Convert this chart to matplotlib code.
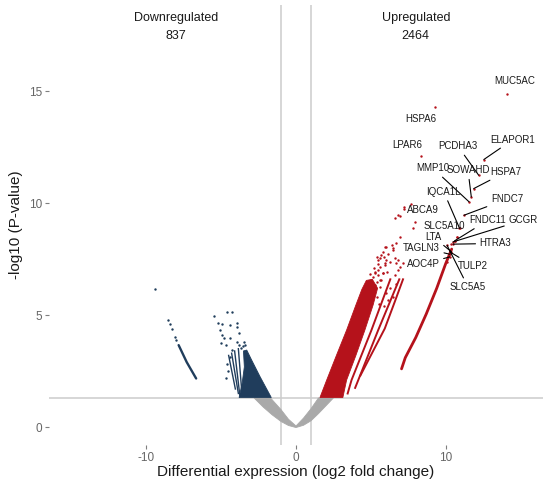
import numpy as np
import matplotlib
matplotlib.use('Agg')
import matplotlib.pyplot as plt

plt.rcParams['font.family'] = ['Liberation Sans', 'DejaVu Sans']
plt.rcParams['axes.unicode_minus'] = False

# colours
C_UP, C_DOWN, C_NS = '#B5121B', '#203D5C', '#A9A9A9'

# --- dense point clouds, outlined (log2FC, -log10 p)
ns_x = [-2.8, -2.2, -1.6, -1.0, -0.5, 0.0, 0.5, 1.0, 1.5, 2.0, 2.5, 1.5, 1.0, 0.5, 0.0, -0.5, -1.0, -1.7]
ns_y = [1.3, 0.9, 0.55, 0.25, 0.07, -0.02, 0.08, 0.28, 0.6, 0.95, 1.3, 1.3, 0.82, 0.4, 0.05, 0.35, 0.78, 1.3]

down_x = [-1.65, -2.4, -2.96, -3.29, -3.51, -3.45, -3.6, -3.8]
down_y = [1.32, 2.25, 2.99, 3.44, 3.4, 2.69, 1.95, 1.32]

up_x = [1.6, 2.05, 2.7, 3.38, 4.0, 4.4, 4.7, 5.1, 5.45, 5.15, 4.6, 4.0, 3.38, 3.13]
up_y = [1.32, 2.1, 3.2, 4.33, 5.45, 6.15, 6.55, 6.6, 6.2, 5.45, 4.33, 3.2, 2.1, 1.32]

# --- streaks of points
up_streaks = [
    ([3.45, 3.71, 5.04, 6.3], [1.5, 2.1, 4.33, 6.6]),
    ([3.95, 4.16, 5.49, 6.9], [1.75, 2.1, 4.33, 6.6]),
    ([4.3, 5.93, 6.6, 7.15], [2.3, 4.4, 5.6, 6.6]),
]
up_line_x = [7.05, 7.3, 8.0, 8.7, 9.4, 10.0, 10.4]
up_line_y = [2.6, 3.1, 4.0, 5.05, 6.2, 7.3, 7.95]

down_streaks = [
    ([-4.5, -4.05], [3.2, 1.7]),
    ([-4.3, -3.85], [3.3, 1.5]),
    ([-4.1, -3.75], [3.4, 1.4]),
    ([-3.85, -3.6], [3.5, 1.4]),
]
down_line_x = [-7.84, -7.3, -6.67]
down_line_y = [3.66, 2.9, 2.17]

# --- sparse points
down_pts_x = [-9.4, -8.58, -8.45, -8.29, -8.07, -8.0, -5.47, -4.58, -4.29, -5.18, -4.96, -4.44, -3.96,
              -3.91, -5.11, -4.96, -4.84, -3.78, -4.4, -3.96, -3.84, -5.02, -4.67, -3.47, -3.4, -4.29,
              -4.4, -4.6, -4.55, -4.7, -3.65, -3.55]
down_pts_y = [6.16, 4.8, 4.62, 4.4, 4.03, 3.88, 4.96, 5.12, 5.12, 4.63, 4.6, 4.55, 4.66,
              4.48, 4.33, 4.1, 3.96, 4.18, 4.0, 3.81, 3.66, 3.74, 3.66, 3.81, 3.66, 3.44,
              3.14, 2.8, 2.5, 2.2, 3.55, 3.6]

up_pts_x = [7.71, 7.22, 6.82, 6.6, 6.93, 7.93, 7.82, 6.93, 6.71, 6.38, 5.93, 6.49, 5.82, 6.16, 6.49,
            5.6, 5.93, 6.27, 6.6, 6.82, 6.93, 7.16, 5.49, 5.82, 6.09, 5.71, 6.6, 6.71, 5.27, 5.6,
            6.27, 6.49, 6.16, 5.04, 5.38, 4.93, 5.1, 5.3, 5.0, 5.55, 5.9, 6.0,
            6.0, 5.71, 5.87, 6.04, 5.49, 5.6, 5.93, 5.27, 5.49, 5.82, 5.04, 5.38, 5.6, 4.93,
            5.27, 4.82, 4.6, 5.16, 4.71, 6.71, 6.82, 5.15, 5.45, 4.75, 5.2, 4.95, 5.4,
            10.76, 10.6, 10.38, 10.89, 10.09]
up_pts_y = [9.96, 9.76, 9.46, 9.32, 9.42, 9.17, 8.87, 8.47, 8.2, 8.13, 8.05, 8.02, 7.83, 7.72, 7.9,
            7.53, 7.31, 7.38, 7.53, 7.46, 7.16, 7.31, 7.01, 6.86, 6.93, 6.56, 6.79, 6.41, 6.34, 6.26,
            6.19, 5.82, 5.67, 5.97, 5.82, 5.67, 6.5, 6.9, 6.2, 5.5, 5.4, 6.0,
            8.05, 7.68, 7.6, 7.46, 7.46, 7.16, 7.23, 6.93, 6.79, 6.86, 6.56, 6.49, 6.56, 6.26,
            6.19, 5.97, 5.75, 5.89, 5.52, 7.31, 7.01, 6.7, 7.3, 6.45, 7.1, 6.85, 7.6,
            8.5, 8.32, 8.17, 8.91, 7.38]

# --- labelled genes
genes = ['MUC5AC', 'HSPA6', 'LPAR6', 'ELAPOR1', 'PCDHA3', 'MMP10', 'SOWAHD', 'HSPA7', 'IQCA1L', 'FNDC7',
         'ABCA9', 'SLC5A10', 'FNDC11', 'GCGR', 'LTA', 'HTRA3', 'TAGLN3', 'AOC4P', 'TULP2', 'SLC5A5']
gene_fc = [14.11, 9.27, 8.38, 12.55, 12.2, 11.56, 11.71, 11.87, 10.93, 11.22,
           7.2, 10.76, 10.6, 10.49, 10.38, 10.49, 10.27, 10.27, 10.27, 10.09]
gene_p = [14.87, 14.3, 12.11, 11.95, 11.25, 10.06, 10.28, 10.65, 8.87, 9.46,
          9.84, 8.5, 8.32, 8.27, 7.83, 8.17, 7.72, 7.6, 7.83, 8.12]
label_fc = [14.64, 8.33, 7.44, 14.49, 10.82, 9.16, 11.49, 14.04, 9.87, 14.09,
            8.49, 9.93, 12.82, 15.16, 9.16, 13.33, 8.38, 8.49, 11.82, 11.49]
label_p = [15.45, 13.75, 12.62, 12.84, 12.54, 11.55, 11.47, 11.4, 10.51, 10.18,
           9.69, 8.99, 9.24, 9.24, 8.5, 8.2, 8.02, 7.28, 7.2, 6.26]
no_segment = {'MUC5AC', 'HSPA6', 'LPAR6', 'ABCA9', 'SLC5A10'}

groups = ['Downregulated', 'Upregulated']
group_n = [837, 2464]
group_fc = [-8, 8]

fig = plt.figure(figsize=(5.5, 4.93), dpi=100)
ax = fig.add_axes([49 / 550, 48 / 493, 494 / 550, 440 / 493])

ax.axhline(-np.log10(0.05), color='#CCCCCC', lw=1.1, zorder=0)
ax.axvline(-1, color='#CCCCCC', lw=1.1, zorder=0)
ax.axvline(1, color='#CCCCCC', lw=1.1, zorder=0)

ax.fill(ns_x, ns_y, color=C_NS, lw=0.6, ec=C_NS, zorder=1)
ax.fill(down_x, down_y, color=C_DOWN, lw=0.6, ec=C_DOWN, zorder=1)
ax.fill(up_x, up_y, color=C_UP, lw=0.6, ec=C_UP, zorder=1)
for xs, ys in up_streaks:
    ax.plot(xs, ys, color=C_UP, lw=1.4, zorder=1)
for xs, ys in down_streaks:
    ax.plot(xs, ys, color=C_DOWN, lw=1.0, zorder=1)
ax.plot(up_line_x, up_line_y, color=C_UP, lw=2.0, solid_capstyle='round', zorder=1)
ax.plot(down_line_x, down_line_y, color=C_DOWN, lw=1.7, solid_capstyle='round', zorder=1)
ax.scatter(down_pts_x, down_pts_y, s=3, color=C_DOWN, lw=0, zorder=2)
ax.scatter(up_pts_x, up_pts_y, s=3, color=C_UP, lw=0, zorder=2)
ax.scatter(gene_fc, gene_p, s=3, color=C_UP, lw=0, zorder=2)

for g, px, py, lx, ly in zip(genes, gene_fc, gene_p, label_fc, label_p):
    arrow = None if g in no_segment else dict(arrowstyle='-', color='black', lw=0.8,
                                                shrinkA=1, shrinkB=0)
    ax.annotate(g, xy=(px, py), xytext=(lx, ly), ha='center', va='center',
                fontsize=7, color='#1A1A1A', arrowprops=arrow, zorder=3)

for g, n, fx in zip(groups, group_n, group_fc):
    ax.text(fx, 18.25, g, ha='center', va='center', fontsize=9, color='#1A1A1A')
    ax.text(fx, 17.45, str(n), ha='center', va='center', fontsize=9, color='#1A1A1A')

ax.set_xlim(-16.5, 16.5)
ax.set_ylim(-0.8, 18.85)
ax.set_xticks([-10, 0, 10])
ax.set_yticks([0, 5, 10, 15])
for s in ax.spines.values():
    s.set_visible(False)
ax.tick_params(length=3, width=0.8, color='#7F7F7F', labelcolor='#666666', labelsize=8.5, pad=2)
ax.set_xlabel('Differential expression (log2 fold change)', fontsize=11, color='#1A1A1A', labelpad=1)
ax.set_ylabel('-log10 (P-value)', fontsize=11, color='#1A1A1A', labelpad=4)

fig.savefig('out.png', dpi=100)
